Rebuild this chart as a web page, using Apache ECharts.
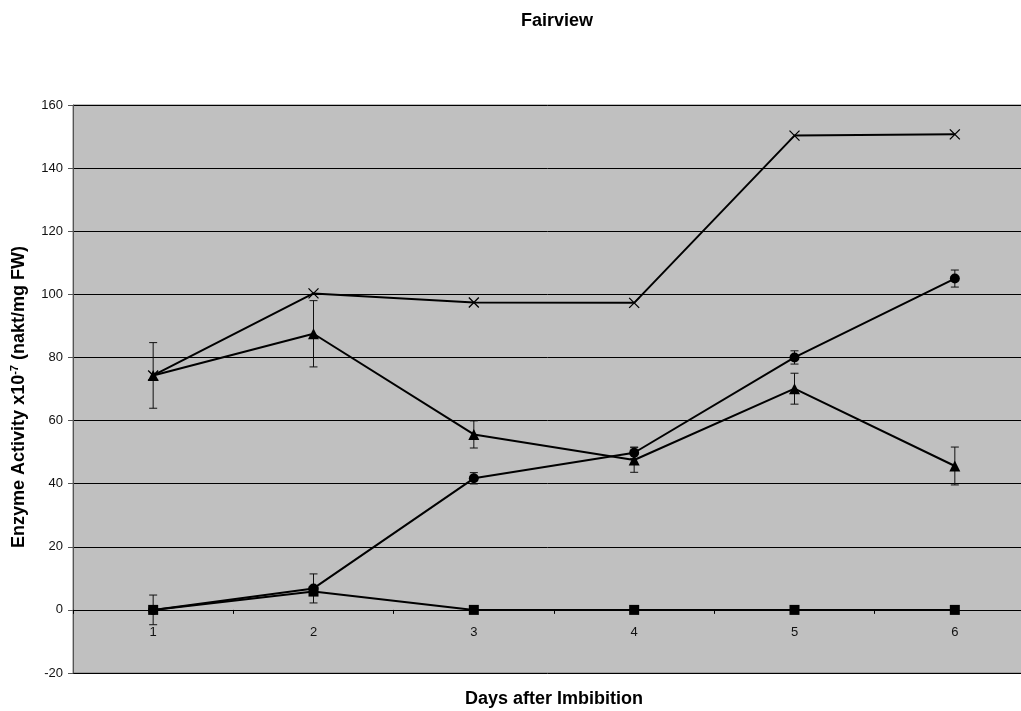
<!DOCTYPE html>
<html>
<head>
<meta charset="utf-8">
<script src="https://cdn.jsdelivr.net/npm/echarts@6/dist/echarts.min.js"></script>
<style>html,body{margin:0;padding:0;background:#fff}#c{width:1021px;height:711px}</style>
</head>
<body>
<div id="c"></div>
<script>
var days = ['1', '2', '3', '4', '5', '6'];
var crossValues = [74.3, 100.3, 97.4, 97.3, 150.3, 150.7];
var triangleValues = [74.3, 87.5, 55.6, 47.5, 70.1, 45.6];
var triangleErr = [10.4, 10.5, 4.3, 3.9, 4.9, 6.0];
var circleValues = [0, 6.8, 41.7, 49.8, 80.0, 105.0];
var circleErr = [4.7, 4.6, 1.8, 1.8, 2.1, 2.7];
var squareValues = [0, 5.8, 0, 0, 0, 0];
var yTicks = {min: -20, max: 160, interval: 20};

function errData(vals, errs) {
  return vals.map(function (v, i) { return [i, v - errs[i], v + errs[i]]; });
}
function errSeries(vals, errs) {
  return {
    type: 'custom',
    data: errData(vals, errs),
    z: 3,
    silent: true,
    renderItem: function (params, api) {
      var x = api.value(0);
      var lo = api.coord([x, api.value(1)]);
      var hi = api.coord([x, api.value(2)]);
      var w = 4;
      var st = {stroke: '#111', lineWidth: 1};
      return {
        type: 'group',
        children: [
          {type: 'line', shape: {x1: lo[0], y1: lo[1], x2: hi[0], y2: hi[1]}, style: st},
          {type: 'line', shape: {x1: lo[0] - w, y1: lo[1], x2: lo[0] + w, y2: lo[1]}, style: st},
          {type: 'line', shape: {x1: hi[0] - w, y1: hi[1], x2: hi[0] + w, y2: hi[1]}, style: st}
        ]
      };
    }
  };
}
function lineSeries(vals, symbol, size, extra) {
  var s = {
    type: 'line',
    data: vals,
    symbol: symbol,
    symbolSize: size,
    showAllSymbol: true,
    z: 4,
    lineStyle: {color: '#000', width: 2},
    itemStyle: {color: '#000'},
    emphasis: {disabled: true},
    animation: false
  };
  if (extra) { for (var k in extra) s[k] = extra[k]; }
  return s;
}

var FONT = 'Liberation Sans, Arial, sans-serif';
var chart = echarts.init(document.getElementById('c'));
chart.setOption({
  animation: false,
  backgroundColor: '#fff',
  textStyle: {fontFamily: FONT},
  title: {
    text: 'Fairview',
    left: 552, top: 7, textAlign: 'center',
    textStyle: {fontSize: 18, fontWeight: 'bold', color: '#000', fontFamily: FONT}
  },
  grid: {
    left: 73, right: -14, top: 105, bottom: 38,
    outerBoundsMode: 'none',
    containLabel: false,
    show: true, backgroundColor: '#c0c0c0', borderColor: '#7a7a7a', borderWidth: 1
  },
  xAxis: {
    type: 'category',
    data: days,
    boundaryGap: true,
    name: 'Days after Imbibition',
    nameLocation: 'middle',
    nameGap: 17,
    nameTextStyle: {fontSize: 18, fontWeight: 'bold', color: '#000', fontFamily: FONT},
    axisLine: {onZero: true, lineStyle: {color: '#000', width: 1}},
    axisTick: {show: true, length: 4, inside: false, lineStyle: {color: '#000'}},
    axisLabel: {margin: -47, fontSize: 13, color: '#111'},
    splitLine: {show: false}
  },
  yAxis: {
    type: 'value',
    min: yTicks.min, max: yTicks.max, interval: yTicks.interval,
    name: 'Enzyme Activity x10{sup|-7} (nakt/mg FW)',
    nameLocation: 'middle',
    nameGap: 43,
    nameRotate: 90,
    nameTextStyle: {
      fontSize: 18, fontWeight: 'bold', color: '#000', fontFamily: FONT,
      padding: [0, 16, 0, 0],
      rich: {sup: {fontSize: 11, fontWeight: 'bold', verticalAlign: 'top', padding: [0, 0, 10, 0], color: '#000', fontFamily: FONT}}
    },
    axisLine: {show: true, lineStyle: {color: '#555', width: 1}},
    axisTick: {show: true, length: 5, lineStyle: {color: '#555'}},
    axisLabel: {margin: 10, fontSize: 13, color: '#111'},
    splitLine: {show: true, lineStyle: {color: '#000', width: 1}}
  },
  series: [
    lineSeries(crossValues, 'path://M0,0L10,10M10,0L0,10', 10, {
      itemStyle: {color: 'rgba(0,0,0,0)', borderColor: '#000', borderWidth: 1.3}
    }),
    errSeries(triangleValues, triangleErr),
    lineSeries(triangleValues, 'triangle', 11),
    errSeries(circleValues, circleErr),
    lineSeries(circleValues, 'circle', 10),
    lineSeries(squareValues, 'rect', 10)
  ]
});
</script>
</body>
</html>
